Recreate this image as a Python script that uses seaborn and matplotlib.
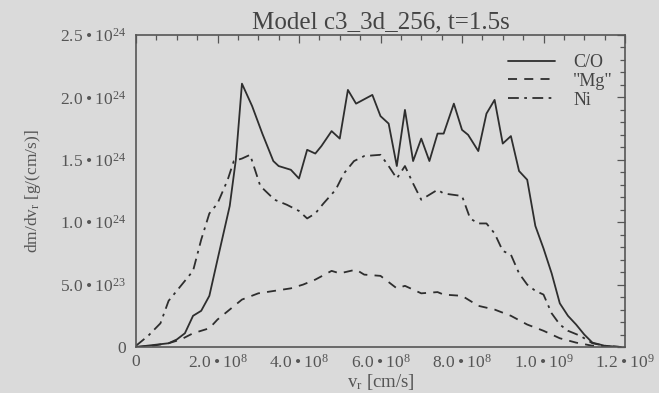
import matplotlib
matplotlib.use("Agg")
import matplotlib.pyplot as plt
import seaborn as sns
import pandas as pd
import numpy as np

# velocities in units of 1e8 cm/s, dm/dv in units of 1e24 g/(cm/s)
co_v = [0, 0.8, 1.0, 1.2, 1.4, 1.6, 1.8, 2.0, 2.3, 2.45, 2.6, 2.85, 3.1, 3.37, 3.5, 3.8, 4.0,
        4.2, 4.4, 4.55, 4.8, 5.0, 5.2, 5.4, 5.8, 6.0, 6.2, 6.4, 6.6, 6.8, 7.0, 7.2, 7.4, 7.55,
        7.8, 8.0, 8.15, 8.4, 8.6, 8.8, 9.0, 9.2, 9.4, 9.6, 9.8, 10.0, 10.2, 10.4, 10.6, 10.8,
        11.0, 11.2, 11.5, 11.9]
co_m = [0, 0.03, 0.06, 0.11, 0.25, 0.29, 0.41, 0.70, 1.13, 1.50, 2.11, 1.93, 1.71, 1.49, 1.45,
        1.42, 1.35, 1.58, 1.55, 1.61, 1.73, 1.67, 2.06, 1.95, 2.02, 1.85, 1.79, 1.45, 1.90, 1.49,
        1.67, 1.49, 1.71, 1.71, 1.95, 1.74, 1.70, 1.57, 1.87, 1.98, 1.63, 1.69, 1.41, 1.34, 0.97,
        0.79, 0.59, 0.35, 0.25, 0.18, 0.10, 0.035, 0.01, 0.0]

mg_v = [0, 0.4, 0.8, 1.1, 1.4, 1.8, 2.0, 2.3, 2.6, 3.0, 3.4, 3.8, 4.1, 4.4, 4.8, 5.0, 5.4, 5.6,
        6.0, 6.4, 6.6, 7.0, 7.4, 7.55, 8.0, 8.4, 8.8, 9.2, 9.6, 10.0, 10.4, 10.8, 11.2, 11.9]
mg_m = [0, 0.01, 0.03, 0.06, 0.11, 0.15, 0.22, 0.30, 0.38, 0.43, 0.45, 0.47, 0.50, 0.54, 0.61,
        0.59, 0.62, 0.58, 0.57, 0.47, 0.49, 0.43, 0.44, 0.42, 0.41, 0.33, 0.30, 0.25, 0.18, 0.13,
        0.07, 0.035, 0.01, 0.0]

ni_v = [0, 0.3, 0.6, 0.8, 1.1, 1.4, 1.6, 1.8, 2.0, 2.25, 2.4, 2.6, 2.8, 3.05, 3.4, 3.7, 4.0,
        4.2, 4.4, 4.6, 4.9, 5.1, 5.35, 5.6, 6.0, 6.2, 6.4, 6.6, 6.8, 7.0, 7.4, 7.55, 8.0, 8.2,
        8.4, 8.6, 8.8, 9.0, 9.2, 9.4, 9.6, 9.8, 10.0, 10.2, 10.4, 10.6, 10.9, 11.2, 11.5, 11.9]
ni_m = [0.01, 0.09, 0.19, 0.37, 0.49, 0.61, 0.86, 1.07, 1.15, 1.34, 1.49, 1.51, 1.54, 1.29,
        1.18, 1.14, 1.09, 1.03, 1.07, 1.15, 1.26, 1.39, 1.49, 1.53, 1.54, 1.45, 1.35, 1.45, 1.31,
        1.18, 1.26, 1.23, 1.21, 1.03, 0.99, 0.99, 0.91, 0.77, 0.74, 0.59, 0.50, 0.45, 0.42, 0.27,
        0.18, 0.13, 0.09, 0.03, 0.01, 0.0]

series_names = ["C/O", '"Mg"', "Ni"]

x_ticks = [0, 2, 4, 6, 8, 10, 12]
x_ticklabels = ["0", "2.0\u2009•\u200910$^{8}$", "4.0\u2009•\u200910$^{8}$",
                "6.0\u2009•\u200910$^{8}$", "8.0\u2009•\u200910$^{8}$",
                "1.0\u2009•\u200910$^{9}$", "1.2\u2009•\u200910$^{9}$"]
y_ticks = [0, 0.5, 1.0, 1.5, 2.0, 2.5]
y_ticklabels = ["0", "5.0\u2009•\u200910$^{23}$", "1.0\u2009•\u200910$^{24}$",
                "1.5\u2009•\u200910$^{24}$", "2.0\u2009•\u200910$^{24}$",
                "2.5\u2009•\u200910$^{24}$"]

df = pd.concat([
    pd.DataFrame({"v": co_v, "m": co_m, "species": series_names[0]}),
    pd.DataFrame({"v": mg_v, "m": mg_m, "species": series_names[1]}),
    pd.DataFrame({"v": ni_v, "m": ni_m, "species": series_names[2]}),
])

sns.set_theme(style="white")
bg = "#dadada"
txt = "#555555"
linec = "#2e2e2e"
plt.rcParams.update({
    "font.family": ["Liberation Serif", "DejaVu Serif"],
    "mathtext.fontset": "custom",
    "mathtext.rm": "Liberation Serif",
    "mathtext.it": "Liberation Serif:italic",
    "mathtext.bf": "Liberation Serif:bold",
    "figure.facecolor": bg,
    "axes.facecolor": bg,
    "text.color": txt,
    "axes.labelcolor": txt,
    "xtick.color": txt,
    "ytick.color": txt,
})

fig = plt.figure(figsize=(6.59, 3.93), dpi=100)
ax = fig.add_axes([136 / 659, 1 - 347 / 393, 489 / 659, 312 / 393])

sns.lineplot(data=df, x="v", y="m", style="species", sort=False, estimator=None,
             style_order=series_names,
             dashes={series_names[0]: "", series_names[1]: (5, 4), series_names[2]: (6, 3, 1.5, 3)},
             color=linec, linewidth=1.3, ax=ax, legend=True)

ax.set_xlim(0, 12)
ax.set_ylim(0, 2.5)
ax.set_xticks(x_ticks)
ax.set_xticklabels(x_ticklabels, fontsize=12.5)
ax.set_yticks(y_ticks)
ax.set_yticklabels(y_ticklabels, fontsize=12.5)
ax.set_xticks(np.arange(0, 12.01, 0.5), minor=True)
ax.set_yticks(np.arange(0, 2.501, 0.1), minor=True)
ax.tick_params(which="both", direction="in", top=True, right=True, color="#555555")
ax.tick_params(which="major", length=6, width=0.9, pad=5)
ax.tick_params(axis="y", which="major", pad=7)
ax.tick_params(which="minor", length=3.5, width=0.9)
for s in ax.spines.values():
    s.set_color("#555555")
    s.set_linewidth(1.2)

ax.set_xlabel(r"v$_{\rm r}$ [cm/s]", fontsize=13.5, labelpad=0)
ax.set_ylabel(r"dm/dv$_{\rm r}$ [g/(cm/s)]", fontsize=12.5, labelpad=12)
ax.set_title("Model c3_3d_256, t=1.5s", fontsize=18, color="#444444", pad=5)

leg = ax.legend(loc="upper right", frameon=False, fontsize=13, handlelength=2.6,
                handletextpad=1.0, labelspacing=0.1, borderpad=0, borderaxespad=0,
                bbox_to_anchor=(1 - 12 / 489, 1 - 19 / 312))
for t in leg.get_texts():
    t.set_color("#444444")

fig.savefig("out.png", dpi=100, facecolor=bg)
